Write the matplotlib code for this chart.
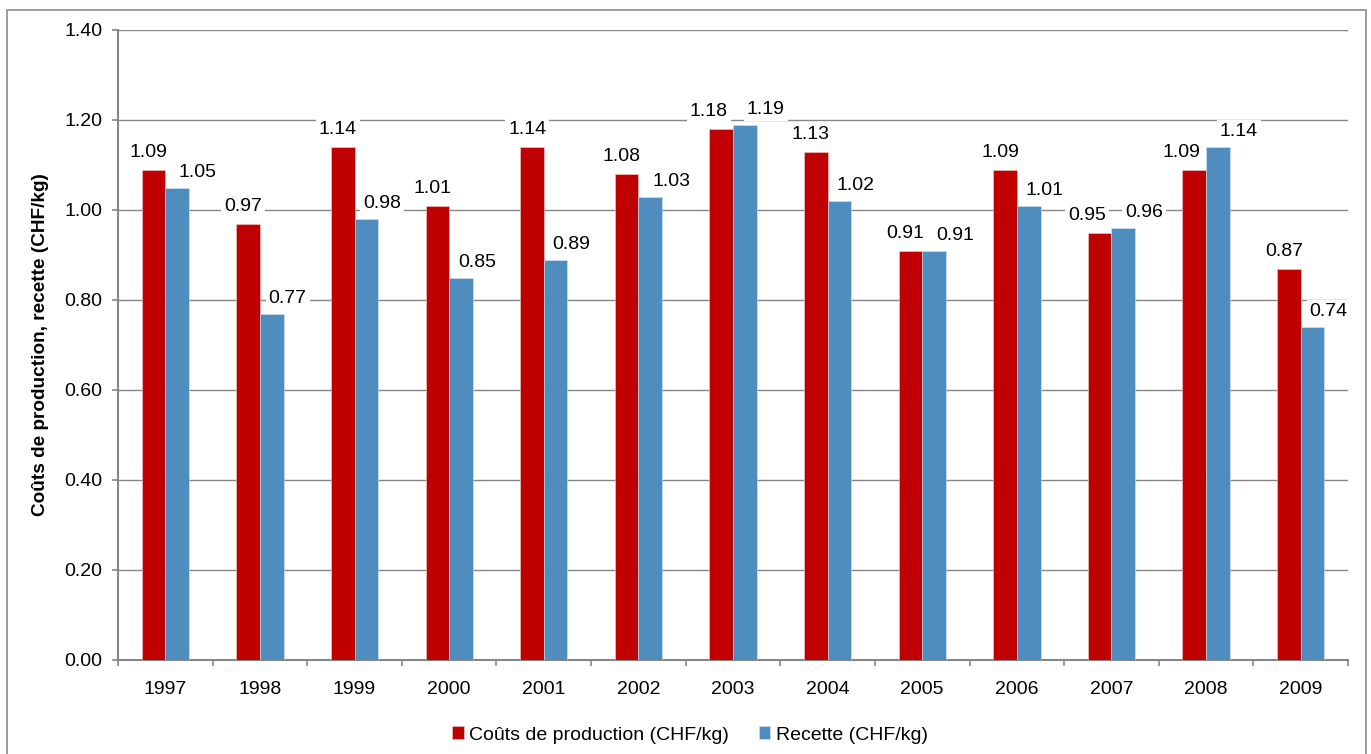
import matplotlib
matplotlib.use("Agg")
import matplotlib.pyplot as plt
import numpy as np
from matplotlib.patches import Rectangle

years = ["1997", "1998", "1999", "2000", "2001", "2002", "2003",
         "2004", "2005", "2006", "2007", "2008", "2009"]
couts = [1.09, 0.97, 1.14, 1.01, 1.14, 1.08, 1.18, 1.13, 0.91, 1.09, 0.95, 1.09, 0.87]
recette = [1.05, 0.77, 0.98, 0.85, 0.89, 1.03, 1.19, 1.02, 0.91, 1.01, 0.96, 1.14, 0.74]
series_names = ["Coûts de production (CHF/kg)", "Recette (CHF/kg)"]
y_label = "Coûts de production, recette (CHF/kg)"

plt.rcParams['font.family'] = ['Liberation Sans', 'DejaVu Sans']
FS = 14

fig = plt.figure(figsize=(13.71, 7.54), dpi=100)
ax = fig.add_axes([118/1371, 1-660/754, (1348-118)/1371, (660-30)/754])

# figure border
fig.patches.append(Rectangle((7/1371, -0.02), (1366-7)/1371, 1.02-10/754,
                             transform=fig.transFigure, fill=False,
                             edgecolor='#8c8c8c', linewidth=1.2))

red = '#C00000'
blue = '#4F8DBE'
x = np.arange(len(years))
w = 0.25
b1 = ax.bar(x - w/2, couts, width=w, color=red, edgecolor='#f0d0d0', linewidth=0.4,
            label=series_names[0], zorder=3)
b2 = ax.bar(x + w/2, recette, width=w, color=blue, edgecolor='#d8e4f0', linewidth=0.4,
            label=series_names[1], zorder=3)

for i, (rect, v) in enumerate(zip(b1, couts)):
    dx = -3.5
    if recette[i] > v and recette[i] - v < 0.08:
        dx = -9
    ax.annotate(f"{v:.2f}", (rect.get_x() + rect.get_width()/2, rect.get_height()),
                xytext=(dx, 12.5), textcoords='offset points', ha='center', va='center',
                fontsize=FS, zorder=2.5,
                bbox=dict(boxstyle='square,pad=0.15', fc='white', ec='none'))
for i, (rect, v) in enumerate(zip(b2, recette)):
    dx = 11.5
    if couts[i] >= v - 0.08 and abs(couts[i] - v) < 0.08:
        dx = 15
    ax.annotate(f"{v:.2f}", (rect.get_x() + rect.get_width()/2, rect.get_height()),
                xytext=(dx, 11), textcoords='offset points', ha='center', va='center',
                fontsize=FS, zorder=2.5,
                bbox=dict(boxstyle='square,pad=0.15', fc='white', ec='none'))

ax.set_xlim(-0.5, len(years) - 0.5)
ax.set_ylim(0, 1.4)
yt = np.arange(0, 1.41, 0.2)
ax.set_yticks(yt)
ax.set_yticklabels([f"{t:.2f}" for t in yt], fontsize=FS)
ax.set_xticks(x)
ax.set_xticklabels(years, fontsize=FS)
ax.set_xticks(np.arange(-0.5, len(years), 1.0), minor=True)
ax.tick_params(axis='x', which='major', length=0, pad=15)
ax.tick_params(axis='x', which='minor', length=4, width=1.2, color='#868686', direction='out')
ax.tick_params(axis='y', length=4, width=1.2, color='#868686', pad=7)

ax.grid(axis='y', color='#868686', linewidth=1.0, zorder=0)
ax.set_axisbelow(True)
for s in ['top', 'right']:
    ax.spines[s].set_visible(False)
for s in ['left', 'bottom']:
    ax.spines[s].set_color('#868686')
    ax.spines[s].set_linewidth(1.5)

ax.set_ylabel(y_label, fontsize=13.7, fontweight='bold', labelpad=11)

leg = fig.legend(handles=[b1, b2], labels=series_names, loc='center',
                 bbox_to_anchor=(690/1371, 1-735/754), ncol=2, frameon=False,
                 fontsize=FS, handlelength=0.6, handleheight=0.6,
                 handletextpad=0.3, columnspacing=1.5)

fig.savefig("out.png", dpi=100)
